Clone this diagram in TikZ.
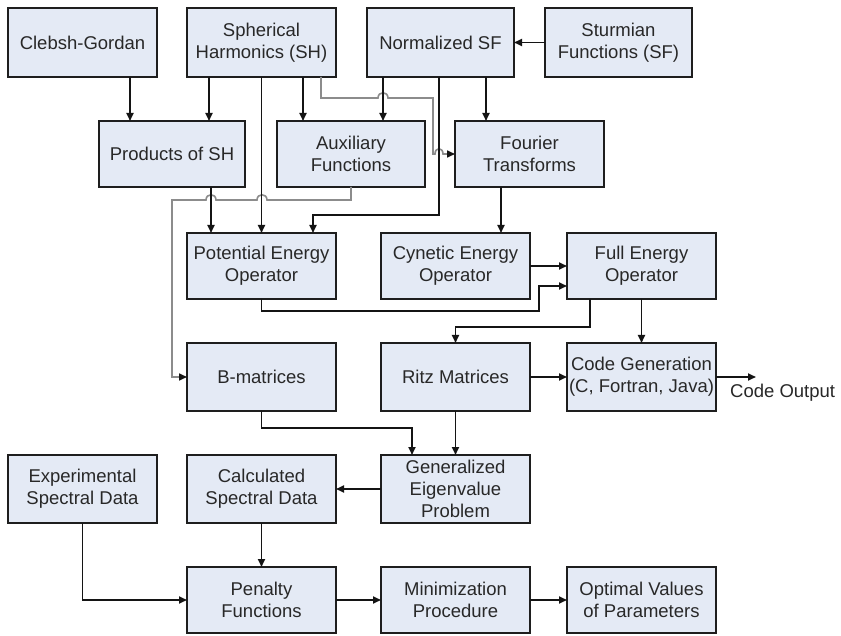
\documentclass[tikz,border=0pt]{standalone}
\usepackage{fontspec}
\setmainfont{Liberation Sans}
\usetikzlibrary{arrows.meta}
\definecolor{boxfill}{RGB}{228,234,245}
\definecolor{boxline}{RGB}{30,30,30}
\definecolor{txt}{RGB}{40,40,40}
\definecolor{lineblk}{RGB}{20,20,20}
\definecolor{linegry}{RGB}{140,140,140}
\tikzset{
  box/.style={draw=boxline, fill=boxfill, line width=2pt, text=txt, align=center,
    inner sep=0pt, outer sep=0pt, minimum width=149pt, minimum height=67pt,
    font=\fontsize{18.5}{22}\selectfont},
  arr/.style={line width=1.8pt, draw=lineblk, -{Triangle[length=8pt,width=7pt,color=lineblk]}},
  gry/.style={line width=1.6pt, draw=linegry},
  gryarr/.style={gry, -{Triangle[length=8pt,width=7pt,color=lineblk]}},
  lbl/.style={text=txt, inner sep=0pt, font=\fontsize{18.5}{22}\selectfont},
}
\begin{document}
\begin{tikzpicture}[x=1pt,y=-1pt]
\useasboundingbox[fill=white] (0,0) rectangle (841,636);
% row 1
\node[box, minimum height=69pt] (cg) at (82.5,42.5) {Clebsh-Gordan};
\node[box, minimum height=69pt] (sh) at (261.5,42.5) {Spherical\\Harmonics (SH)};
\node[box, minimum height=69pt, minimum width=147pt] (nsf) at (440.5,42.5) {Normalized SF};
\node[box, minimum height=69pt, minimum width=147pt] (sf) at (618.5,42.5) {Sturmian\\Functions (SF)};
% row 2
\node[box, minimum height=66pt, minimum width=146pt] (ps) at (172,154) {Products of SH};
\node[box, minimum height=66pt, minimum width=148pt] (aux) at (351,154) {Auxiliary\\Functions};
\node[box, minimum height=66pt] (ft) at (529.5,154) {Fourier\\Transforms};
% row 3
\node[box, minimum height=66pt] (pe) at (261.5,266) {Potential Energy\\Operator};
\node[box, minimum height=66pt] (ke) at (455.5,266) {Cynetic Energy\\Operator};
\node[box, minimum height=66pt] (fe) at (641.5,266) {Full Energy\\Operator};
% row 4
\node[box, minimum height=68pt] (bm) at (261.5,377) {B-matrices};
\node[box, minimum height=68pt] (rm) at (455.5,377) {Ritz Matrices};
\node[box, minimum height=68pt] (cgen) at (641.5,377) {Code Generation\\(C, Fortran, Java)};
\node[lbl, anchor=west] (co) at (730,393) {Code Output};
% row 5
\node[box, minimum height=68pt] (esd) at (82.5,489) {Experimental\\Spectral Data};
\node[box, minimum height=68pt] (csd) at (261.5,489) {Calculated\\Spectral Data};
\node[box, minimum height=68pt] (gep) at (455.5,489) {Generalized\\Eigenvalue\\Problem};
% row 6
\node[box, minimum height=66pt] (pf) at (261.5,600) {Penalty\\Functions};
\node[box, minimum height=66pt] (mp) at (455.5,600) {Minimization\\Procedure};
\node[box, minimum height=66pt] (ov) at (641.5,600) {Optimal Values\\of Parameters};

% helper coordinates
\coordinate (g1) at (321,98);
\coordinate (g2) at (433,98);
\coordinate (g3) at (433,154);
\coordinate (a1) at (351,200);
\coordinate (a2) at (172,200);
\coordinate (b1) at (439,215);
\coordinate (b2) at (313,215);
\coordinate (c1) at (539,311);
\coordinate (c2) at (539,286);
\coordinate (d1) at (590,327);
\coordinate (e1) at (412,428);
\coordinate (coend) at (756,377);

% gray connectors with hops
\draw[gryarr] ([xshift=59.5pt]sh.south) -- (g1) -- (378,98) .. controls (378,91) and (388,91) .. (388,98)
  -- (g2) -- (g3) -- (435,154) .. controls (435,147) and (443,147) .. (443,154) -- (ft.west);
\draw[gryarr] (aux.south) -- (a1) -- (267,200) .. controls (267,193) and (257,193) .. (257,200)
  -- (216,200) .. controls (216,193) and (206,193) .. (206,200) -- (a2) |- (bm.west);

% black connectors
\draw[arr] ([xshift=47.5pt]cg.south) -- ([xshift=47.5pt]cg.south |- ps.north);
\draw[arr] ([xshift=-52.5pt]sh.south) -- ([xshift=-52.5pt]sh.south |- ps.north);
\draw[arr] (sh.south) -- (sh.south |- pe.north);
\draw[arr] ([xshift=41.5pt]sh.south) -- ([xshift=41.5pt]sh.south |- aux.north);
\draw[arr] ([xshift=-57.5pt]nsf.south) -- ([xshift=-57.5pt]nsf.south |- aux.north);
\draw[arr] (nsf.south -| b1) -- (b1) -- (b2) -- (b2 |- pe.north);
\draw[arr] ([xshift=45.5pt]nsf.south) -- ([xshift=45.5pt]nsf.south |- ft.north);
\draw[arr] (sf.west) -- (nsf.east);
\draw[arr] ([xshift=39pt]ps.south) -- ([xshift=39pt]ps.south |- pe.north);
\draw[arr] ([xshift=-28.5pt]ft.south) -- ([xshift=-28.5pt]ft.south |- ke.north);
\draw[arr] (ke.east) -- (fe.west);
\draw[arr] (pe.south) |- (c1) -- (c2) -- (c2 -| fe.west);
\draw[arr] (fe.south -| d1) -- (d1) -| (rm.north);
\draw[arr] (fe.south) -- (cgen.north);
\draw[arr] (rm.east) -- (cgen.west);
\draw[arr] (cgen.east) -- (coend);
\draw[arr] (bm.south) |- (e1) -- (e1 |- gep.north);
\draw[arr] (rm.south) -- (gep.north);
\draw[arr] (gep.west) -- (csd.east);
\draw[arr] (csd.south) -- (pf.north);
\draw[arr] (esd.south) |- (pf.west);
\draw[arr] (pf.east) -- (mp.west);
\draw[arr] (mp.east) -- (ov.west);
\end{tikzpicture}
\end{document}
